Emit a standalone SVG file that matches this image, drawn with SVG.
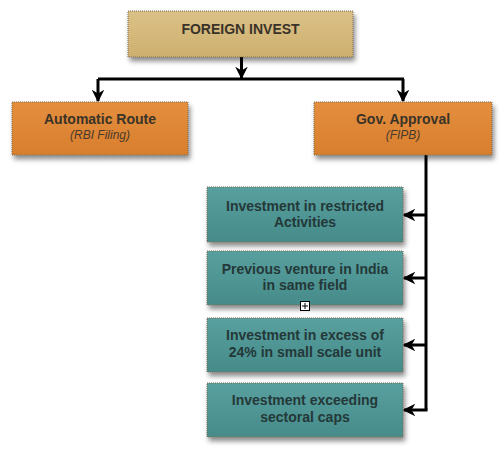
<svg xmlns="http://www.w3.org/2000/svg" width="501" height="450" viewBox="0 0 501 450">
<defs>
<filter id="sh" x="-10%" y="-20%" width="125%" height="150%">
<feDropShadow dx="2" dy="4" stdDeviation="2.5" flood-color="#000" flood-opacity="0.45"/>
</filter>
<linearGradient id="gTan" x1="0" y1="0" x2="0" y2="1"><stop offset="0" stop-color="#dcc187"/><stop offset="1" stop-color="#cdb070"/></linearGradient>
<linearGradient id="gOr" x1="0" y1="0" x2="0" y2="1"><stop offset="0" stop-color="#e48e3e"/><stop offset="1" stop-color="#d87f2e"/></linearGradient>
<linearGradient id="gTe" x1="0" y1="0" x2="0" y2="1"><stop offset="0" stop-color="#58a09f"/><stop offset="1" stop-color="#468b8a"/></linearGradient>
<marker id="ah" viewBox="0 0 10 10" refX="9" refY="5" markerWidth="4.2" markerHeight="4.2" orient="auto" markerUnits="strokeWidth">
<path d="M0,0 L10,5 L0,10 L3,5 Z" fill="#000"/>
</marker>
</defs>
<style>
.box{stroke:#7a6a50;stroke-width:1;stroke-dasharray:1 1;filter:url(#sh)}
.t{font-family:"Liberation Sans",Arial,sans-serif;font-weight:bold;font-size:14px;text-anchor:middle;fill:#3a3328}
.s{font-family:"Liberation Sans",Arial,sans-serif;font-style:italic;font-size:12px;text-anchor:middle;fill:#4a3a2a}
.tt{font-family:"Liberation Sans",Arial,sans-serif;font-weight:bold;font-size:14px;text-anchor:middle;fill:#243838}
.c{stroke:#000;fill:none;stroke-width:3}
</style>
<rect width="501" height="450" fill="#fff"/>
<g id="connectors">
<path class="c" d="M241.5,57 V78" marker-end="url(#ah)"/>
<path class="c" d="M98,79 H404" stroke-width="2"/>
<path class="c" d="M98,79 V101" marker-end="url(#ah)"/>
<path class="c" d="M403,79 V101" marker-end="url(#ah)"/>
<path class="c" d="M426,155 V410"/>
<path class="c" d="M427,215 H404" marker-end="url(#ah)"/>
<path class="c" d="M427,278 H404" marker-end="url(#ah)"/>
<path class="c" d="M427,345 H404" marker-end="url(#ah)"/>
<path class="c" d="M427.5,410 H404" marker-end="url(#ah)"/>
</g>
<g id="foreign">
<rect class="box" x="128" y="11" width="225" height="46" fill="url(#gTan)"/>
<text class="t" x="240.5" y="34">FOREIGN INVEST</text>
</g>
<g id="automatic">
<rect class="box" x="12" y="102" width="176" height="53" fill="url(#gOr)"/>
<text class="t" x="100" y="124">Automatic Route</text>
<text class="s" x="100" y="139">(RBI Filing)</text>
</g>
<g id="gov">
<rect class="box" x="314" y="102" width="178" height="53" fill="url(#gOr)"/>
<text class="t" x="403" y="124">Gov. Approval</text>
<text class="s" x="403" y="139">(FIPB)</text>
</g>
<g id="restricted">
<rect class="box" x="207" y="187" width="196" height="55" fill="url(#gTe)"/>
<text class="tt" x="305" y="211">Investment in restricted</text>
<text class="tt" x="305" y="227">Activities</text>
</g>
<g id="previous">
<rect class="box" x="207" y="251" width="196" height="54" fill="url(#gTe)"/>
<text class="tt" x="305" y="274">Previous venture in India</text>
<text class="tt" x="305" y="290">in same field</text>
<rect x="300.5" y="301.5" width="9" height="9" fill="#fff" stroke="#000" stroke-width="1"/>
<path d="M305,303 V309 M302,306 H308" stroke="#000" stroke-width="1"/>
</g>
<g id="excess">
<rect class="box" x="207" y="318" width="196" height="54" fill="url(#gTe)"/>
<text class="tt" x="305" y="340">Investment in excess of</text>
<text class="tt" x="305" y="357">24% in small scale unit</text>
</g>
<g id="sectoral">
<rect class="box" x="207" y="383" width="196" height="54" fill="url(#gTe)"/>
<text class="tt" x="305" y="405">Investment exceeding</text>
<text class="tt" x="305" y="422">sectoral caps</text>
</g>
</svg>
